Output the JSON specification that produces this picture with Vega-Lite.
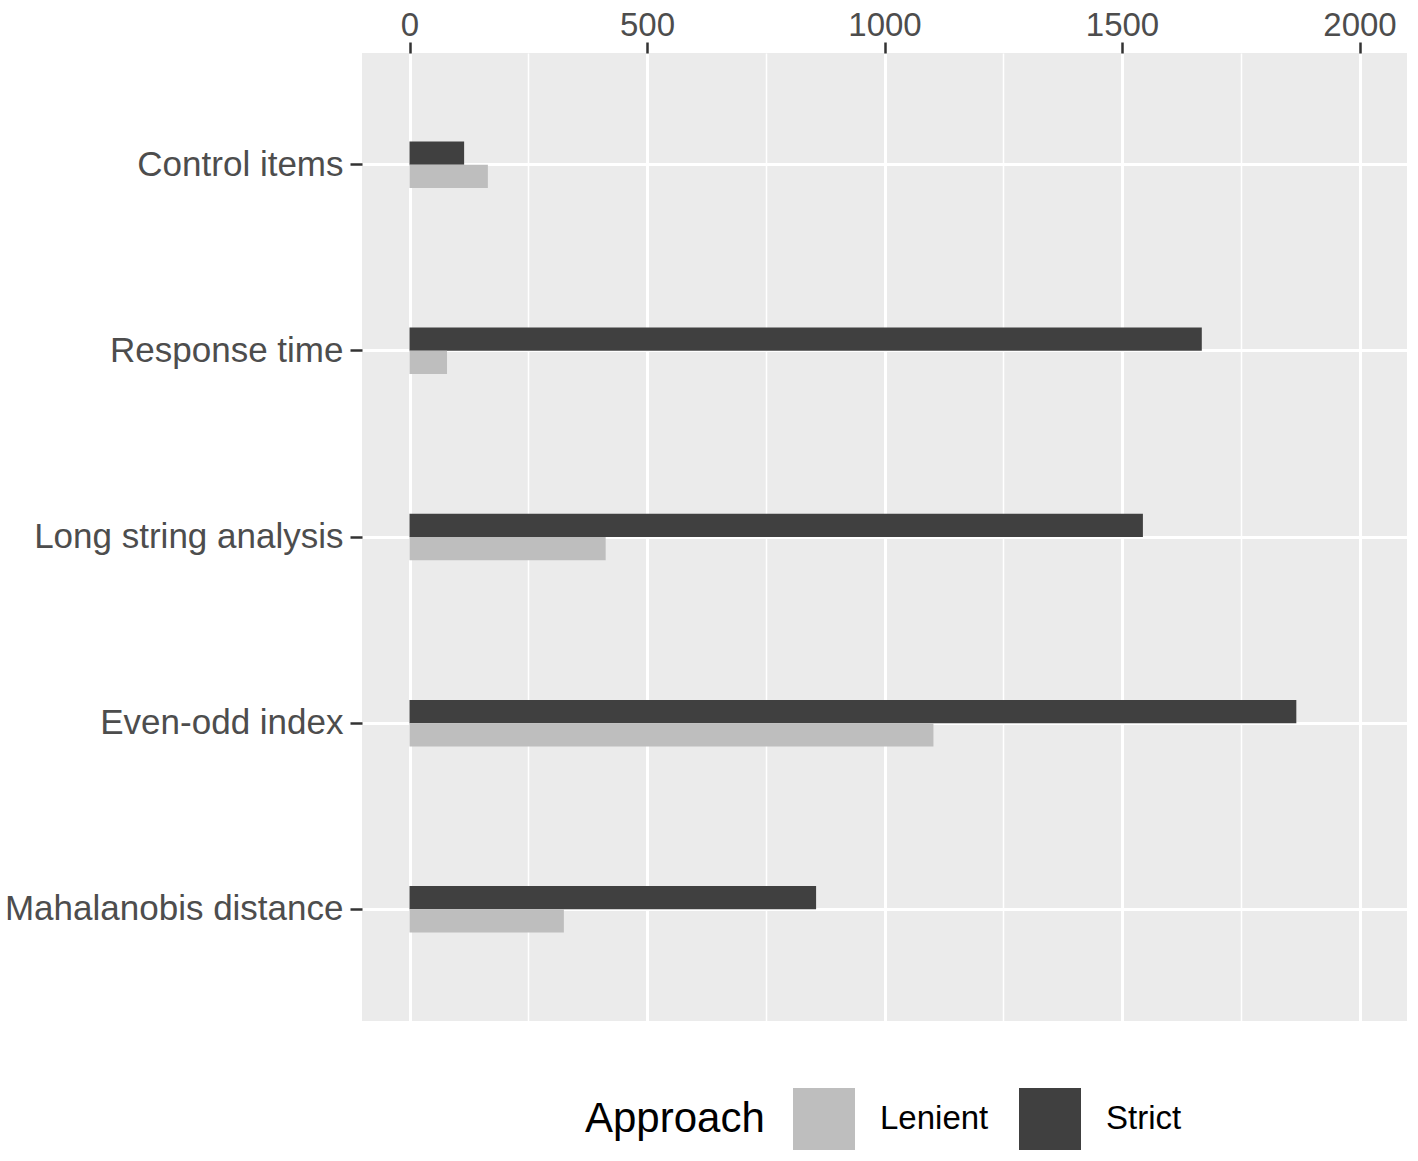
{
  "$schema": "https://vega.github.io/schema/vega-lite/v6.json",
  "autosize": "none",
  "width": 1045,
  "height": 968,
  "padding": {"left": 362, "top": 53, "right": 11, "bottom": 140},
  "background": "white",
  "config": {
    "font": "Liberation Sans",
    "view": {"fill": "#EBEBEB", "stroke": null}
  },
  "data": {
    "values": [
      {"method": "Control items", "Approach": "Strict", "n": 115},
      {"method": "Control items", "Approach": "Lenient", "n": 165},
      {"method": "Response time", "Approach": "Strict", "n": 1668},
      {"method": "Response time", "Approach": "Lenient", "n": 79},
      {"method": "Long string analysis", "Approach": "Strict", "n": 1544},
      {"method": "Long string analysis", "Approach": "Lenient", "n": 413},
      {"method": "Even-odd index", "Approach": "Strict", "n": 1867},
      {"method": "Even-odd index", "Approach": "Lenient", "n": 1103},
      {"method": "Mahalanobis distance", "Approach": "Strict", "n": 856},
      {"method": "Mahalanobis distance", "Approach": "Lenient", "n": 325}
    ]
  },
  "mark": {"type": "bar"},
  "encoding": {
    "y": {
      "field": "method",
      "type": "nominal",
      "sort": ["Control items", "Response time", "Long string analysis", "Even-odd index", "Mahalanobis distance"],
      "scale": {"paddingInner": 0.75, "paddingOuter": 0.475},
      "axis": {
        "title": null,
        "domain": false,
        "grid": true,
        "gridColor": "white",
        "gridWidth": 3,
        "bandPosition": 0.5,
        "labelFontSize": 35,
        "labelColor": "#4D4D4D",
        "labelPadding": 7,
        "labelLimit": 0,
        "tickColor": "#333333",
        "tickSize": 12,
        "tickWidth": 2.5
      }
    },
    "yOffset": {
      "field": "Approach",
      "type": "nominal",
      "sort": ["Strict", "Lenient"]
    },
    "x": {
      "field": "n",
      "type": "quantitative",
      "scale": {"domain": [-100, 2100], "nice": false, "zero": false},
      "axis": {
        "orient": "top",
        "title": null,
        "domain": false,
        "format": "d",
        "values": [0, 250, 500, 750, 1000, 1250, 1500, 1750, 2000],
        "labelExpr": "datum.value % 500 === 0 ? datum.label : ''",
        "labelOverlap": false,
        "labelFlush": false,
        "labelFontSize": 33,
        "labelColor": "#4D4D4D",
        "labelBaseline": "alphabetic",
        "labelPadding": 7,
        "tickColor": "#333333",
        "tickSize": 11,
        "tickWidth": 2.5,
        "tickOpacity": {"condition": {"test": "datum.value % 500 === 0", "value": 1}, "value": 0},
        "grid": true,
        "gridColor": "white",
        "gridWidth": {"condition": {"test": "datum.value % 500 === 0", "value": 3}, "value": 1.5}
      }
    },
    "color": {
      "field": "Approach",
      "type": "nominal",
      "scale": {"domain": ["Lenient", "Strict"], "range": ["#BEBEBE", "#404040"]},
      "legend": {
        "orient": "none",
        "legendX": 223,
        "legendY": 1035,
        "direction": "horizontal",
        "title": "Approach",
        "titleOrient": "left",
        "titleFontSize": 42,
        "titleFontWeight": "normal",
        "titleColor": "black",
        "titlePadding": 28,
        "symbolType": "square",
        "symbolSize": 3844,
        "symbolStrokeWidth": 0,
        "symbolOpacity": 1,
        "labelFontSize": 33,
        "labelColor": "black",
        "labelOffset": 25,
        "columnPadding": 30
      }
    }
  }
}
